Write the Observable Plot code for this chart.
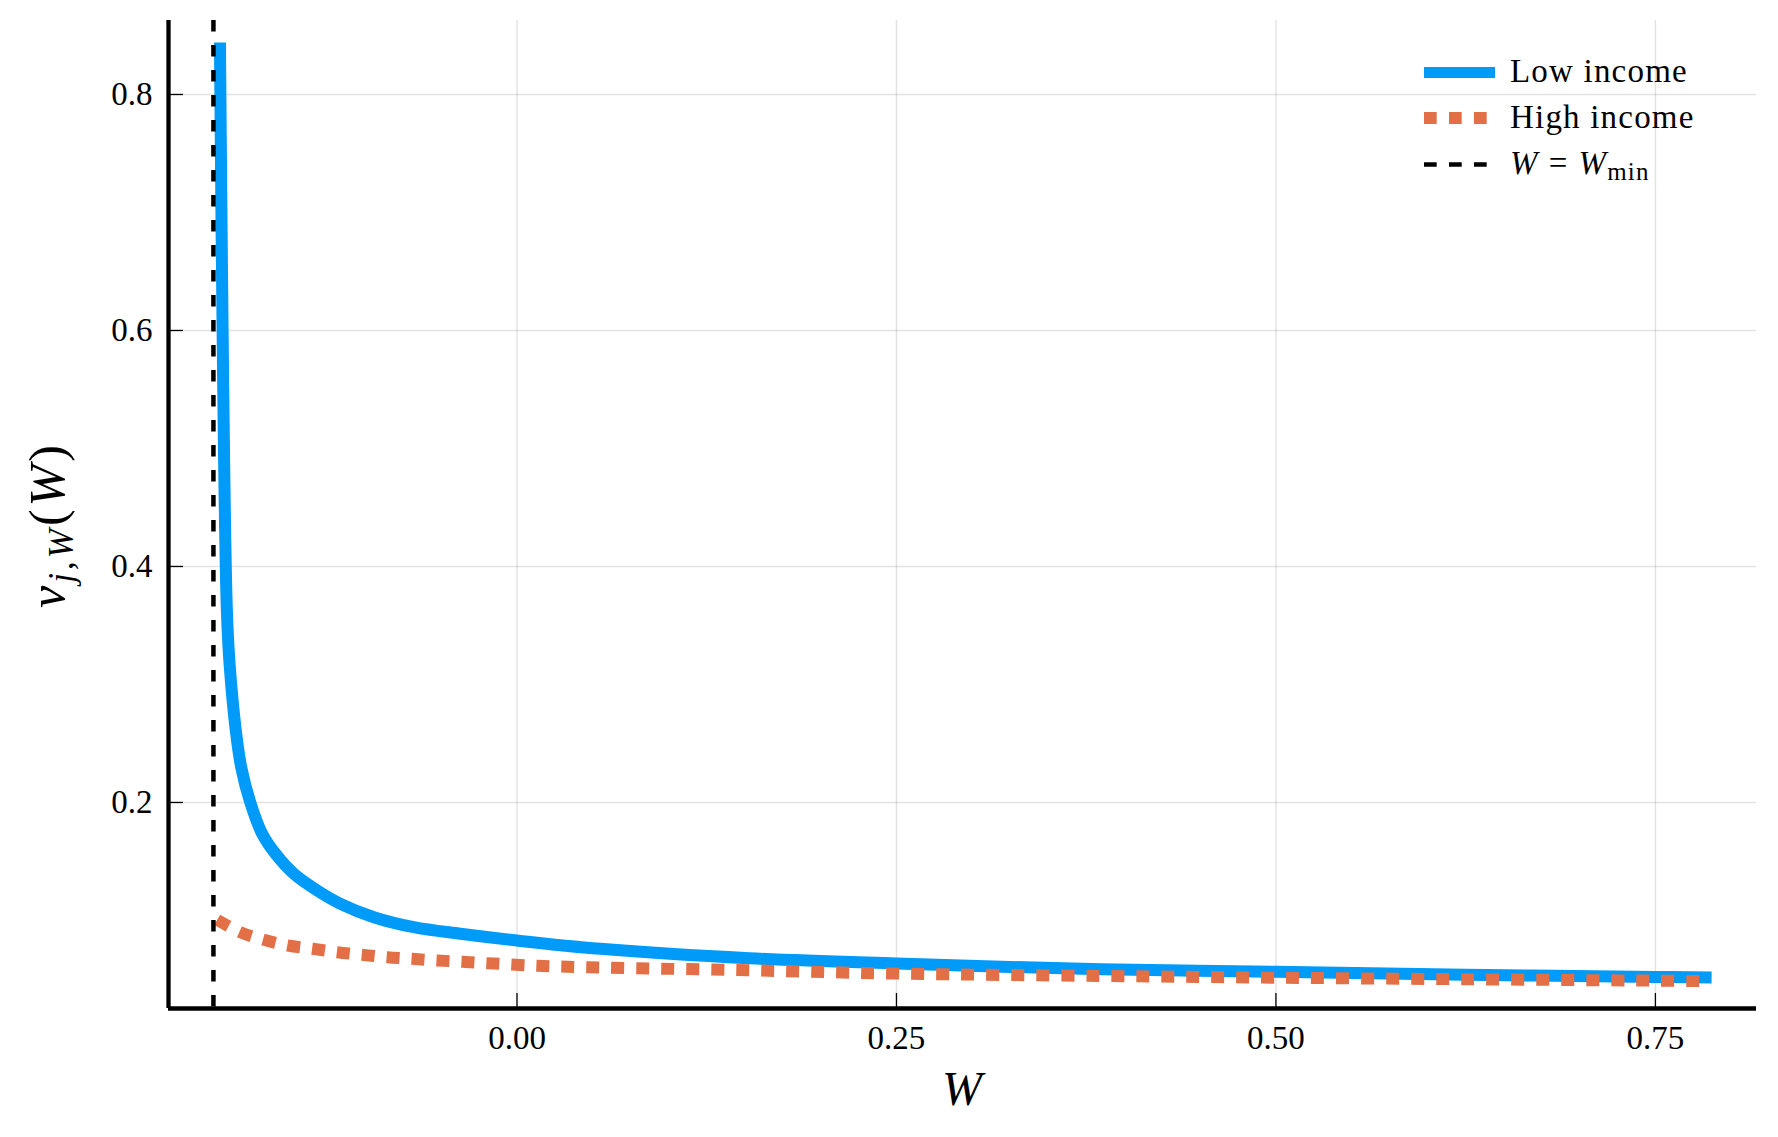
<!DOCTYPE html>
<html>
<head>
<meta charset="utf-8">
<script src="https://cdn.jsdelivr.net/npm/d3@7"></script>
<script src="https://cdn.jsdelivr.net/npm/@observablehq/plot@0.6"></script>
<style>
  html, body { margin: 0; padding: 0; background: #fff; }
  svg { display: block; }
</style>
</head>
<body>
<div id="chart"></div>
<script>
// ---- Data ----
const seriesNames = ["Low income", "High income"];
const lowW  = [-0.1957, -0.1912, -0.1892, -0.1850, -0.1817, -0.1757, -0.1679, -0.1591, -0.1470, -0.1316, -0.1163, -0.0943, -0.0680, -0.0372, 0.0000, 0.0550, 0.1530, 0.2500, 0.3850, 0.5000, 0.6250, 0.7500, 0.7870];
const lowV  = [0.844, 0.365, 0.3146, 0.2582, 0.2299, 0.2000, 0.1735, 0.1565, 0.1396, 0.1254, 0.1141, 0.1028, 0.0943, 0.0887, 0.0830, 0.0760, 0.0680, 0.0635, 0.0587, 0.0565, 0.0540, 0.0522, 0.0517];
const highW = [-0.1975, -0.1822, -0.1668, -0.1510, -0.1345, -0.1185, -0.1020, -0.0855, -0.0690, -0.0526, -0.0361, -0.0196, 0.0133, 0.0462, 0.1440, 0.2500, 0.3850, 0.5000, 0.6250, 0.7500, 0.7870];
const highV = [0.1005, 0.0901, 0.0836, 0.0788, 0.0760, 0.0731, 0.0709, 0.0689, 0.0675, 0.0661, 0.0650, 0.0638, 0.0616, 0.0604, 0.0580, 0.0550, 0.0530, 0.0515, 0.0502, 0.0490, 0.0486];
const wMin = -0.2;
const xTicks = [0, 0.25, 0.5, 0.75];
const yTicks = [0.2, 0.4, 0.6, 0.8];
const xDomain = [-0.2296, 0.8166];
const yDomain = [0.0254, 0.8627];

const low = lowW.map((w, i) => ({W: w, v: lowV[i], s: seriesNames[0]}));
const high = highW.map((w, i) => ({W: w, v: highV[i], s: seriesNames[1]}));

// ---- Layout ----
const width = 1778, height = 1137;
const mL = 168, mR = 22, mT = 20, mB = 129;
const innerW = width - mL - mR, innerH = height - mT - mB;
const font = "'Liberation Serif', 'Times New Roman', serif";
const blue = "#009af9", orange = "#e26f46";

const plot = Plot.plot({
  width, height,
  marginLeft: mL, marginRight: mR, marginTop: mT, marginBottom: mB,
  style: {fontFamily: font, fontSize: "33px", background: "#fff", color: "#000"},
  x: {domain: xDomain},
  y: {domain: yDomain},
  marks: [
    Plot.gridX(xTicks, {stroke: "#000", strokeOpacity: 0.11, strokeWidth: 1.5}),
    Plot.gridY(yTicks, {stroke: "#000", strokeOpacity: 0.11, strokeWidth: 1.5}),
    Plot.axisX(xTicks, {tickSize: 0, tickPadding: 17, label: null, tickFormat: d3.format(".2f"), fontSize: 33, fontFamily: font}),
    Plot.axisY(yTicks, {tickSize: 0, tickPadding: 16, label: null, tickFormat: d3.format(".1f"), fontSize: 33, fontFamily: font}),
    Plot.tickY(yTicks, {y: d => d, insetRight: innerW - 15, stroke: "#000", strokeWidth: 1.3}),
    Plot.tickX(xTicks, {x: d => d, insetTop: innerH - 15, stroke: "#000", strokeWidth: 1.3}),
    Plot.line(low, {x: "W", y: "v", stroke: blue, strokeWidth: 12, strokeLinecap: "butt", strokeLinejoin: "round", curve: "catmull-rom"}),
    Plot.line(high, {x: "W", y: "v", stroke: orange, strokeWidth: 12, strokeDasharray: "13,12", strokeLinecap: "butt", curve: "catmull-rom"}),
    Plot.ruleX([wMin], {stroke: "#000", strokeWidth: 4.5, strokeDasharray: "11.5,13.5"}),
    Plot.ruleX([xDomain[0]], {stroke: "#000", strokeWidth: 4.3}),
    Plot.ruleY([yDomain[0]], {stroke: "#000", strokeWidth: 4.3})
  ]
});

document.getElementById("chart").appendChild(plot);

const svg = d3.select(plot);

// Y axis label: v_{j,W}(W)
const yl = svg.append("text")
  .attr("transform", "translate(64,525) rotate(-90)")
  .attr("text-anchor", "middle")
  .attr("font-family", font)
  .attr("font-size", 50)
  .attr("letter-spacing", 3)
  .attr("fill", "#000");
yl.append("tspan").attr("font-style", "italic").text("v");
yl.append("tspan").attr("font-style", "italic").attr("font-size", 35).attr("dy", 9).text("j");
yl.append("tspan").attr("font-size", 35).text(",");
yl.append("tspan").attr("font-style", "italic").attr("font-size", 35).text("W");
yl.append("tspan").attr("dy", -9).text("(");
yl.append("tspan").attr("font-style", "italic").text("W");
yl.append("tspan").text(")");

// X axis label: W
svg.append("text")
  .attr("x", 962).attr("y", 1105)
  .attr("text-anchor", "middle")
  .attr("font-family", font)
  .attr("font-size", 48)
  .attr("font-style", "italic")
  .attr("fill", "#000")
  .text("W");

// Legend
const legend = svg.append("g")
  .attr("font-family", font)
  .attr("font-size", 33)
  .attr("text-anchor", "start")
  .attr("fill", "#000");
const rows = [
  {label: seriesNames[0], stroke: blue, w: 11, dash: null, y: 72.5},
  {label: seriesNames[1], stroke: orange, w: 12, dash: "12.7,12.3", y: 118},
  {label: null, stroke: "#000", w: 4.5, dash: "12.7,12.3", y: 164.5}
];
rows.forEach(r => {
  const l = legend.append("line")
    .attr("x1", 1424).attr("x2", 1495)
    .attr("y1", r.y).attr("y2", r.y)
    .attr("stroke", r.stroke).attr("stroke-width", r.w);
  if (r.dash) l.attr("stroke-dasharray", r.dash);
  const t = legend.append("text").attr("x", 1510).attr("y", r.y + 9.5).attr("letter-spacing", 1.2).attr("text-anchor", "start");
  if (r.label) {
    t.text(r.label);
  } else {
    t.append("tspan").attr("font-style", "italic").text("W");
    t.append("tspan").attr("dx", 10).text("=");
    t.append("tspan").attr("dx", 10).attr("font-style", "italic").text("W");
    t.append("tspan").attr("font-size", 25).attr("dy", 6).text("min");
  }
});
</script>
</body>
</html>
